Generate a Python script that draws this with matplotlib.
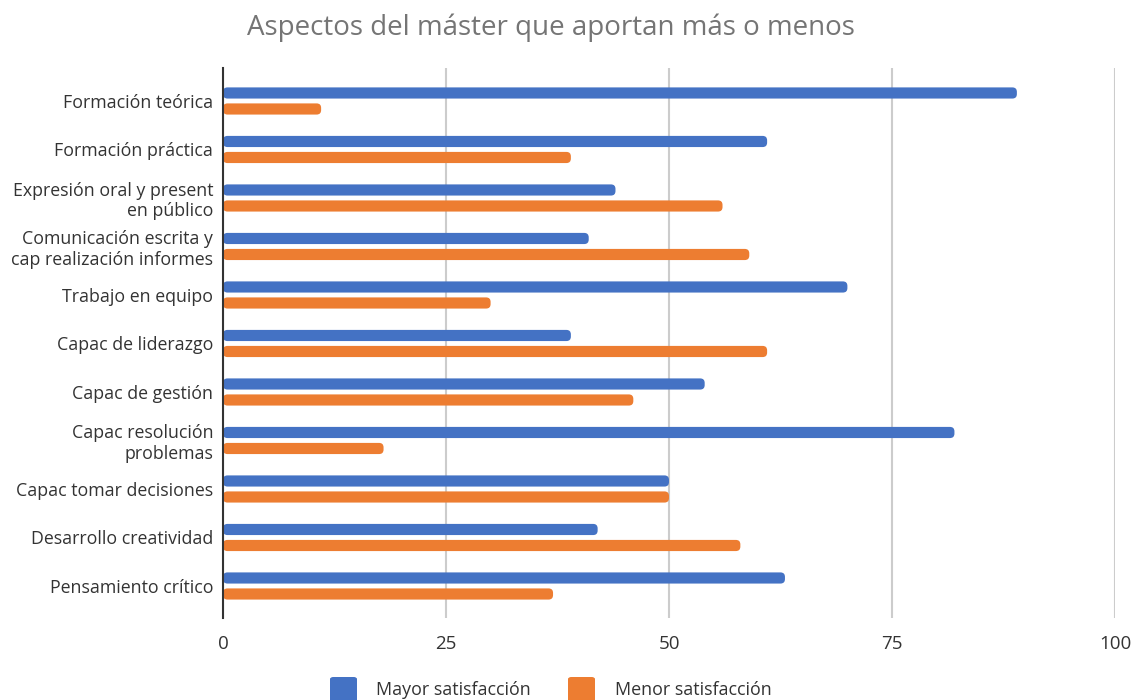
import matplotlib
matplotlib.use("Agg")
import matplotlib.pyplot as plt
from matplotlib.patches import FancyBboxPatch
import numpy as np

categories = ["Formación teórica", "Formación práctica", "Expresión oral y present\nen público",
              "Comunicación escrita y\ncap realización informes", "Trabajo en equipo",
              "Capac de liderazgo", "Capac de gestión", "Capac resolución\nproblemas",
              "Capac tomar decisiones", "Desarrollo creatividad", "Pensamiento crítico"]
mayor = [89, 61, 44, 41, 70, 39, 54, 82, 50, 42, 63]
menor = [11, 39, 56, 59, 30, 61, 46, 18, 50, 58, 37]
xticks = [0, 25, 50, 75, 100]
series_names = ["Mayor satisfacción", "Menor satisfacción"]
colors = ["#4472C4", "#ED7D31"]

plt.rcParams['font.family'] = ['Open Sans', 'DejaVu Sans']

W, H = 1133, 700
fig = plt.figure(figsize=(W/100, H/100), dpi=100)
ax = fig.add_axes([223/W, 1-618/H, (1115-223)/W, (618-68)/H])

n = len(categories)
y = np.arange(n)
bh = 0.23
off = 0.165
b1 = ax.barh(y - off, mayor, height=bh, color=colors[0])
b2 = ax.barh(y + off, menor, height=bh, color=colors[1])

ax.set_xlim(0, 100)
ax.set_ylim(n - 1 + 0.66, -0.68)

# rounded bars
xpx = (1115-223)/100.0
ypx = (618-68)/(n - 1 + 0.66 + 0.68)
aspect = xpx / ypx
for bars in (b1, b2):
    for r in bars:
        x0, y0 = r.get_x(), r.get_y()
        w, h = r.get_width(), r.get_height()
        fc = r.get_facecolor()
        r.set_visible(False)
        rs = 4.5 / xpx
        p = FancyBboxPatch((x0, y0), w, h, boxstyle=f"round,pad=0,rounding_size={rs}",
                           mutation_aspect=aspect, facecolor=fc, edgecolor='none', zorder=3)
        ax.add_patch(p)

ax.set_xticks(xticks)
ax.set_xticklabels([str(t) for t in xticks], fontsize=13.5, color="#333333")
ax.set_yticks(y)
ax.set_yticklabels(categories, fontsize=12.8, color="#333333", linespacing=1.15)
ax.tick_params(axis='both', length=0)
ax.tick_params(axis='x', pad=12)
ax.tick_params(axis='y', pad=7)
ax.grid(axis='x', color="#cccccc", linewidth=1.5, zorder=0)
ax.set_axisbelow(True)
for s in ['top', 'right', 'bottom']:
    ax.spines[s].set_visible(False)
ax.spines['left'].set_color("#333333")
ax.spines['left'].set_linewidth(1.5)
ax.spines['left'].set_zorder(5)

fig.text(551/W, 1-28/H, "Aspectos del máster que aportan más o menos", ha='center', va='center',
         fontsize=20, color="#757575")

# legend
lx = [(330, 376), (568, 615)]
for (sx, tx), c, name in zip(lx, colors, series_names):
    fig.patches.append(FancyBboxPatch((sx/W, 1-702/H), 27/W, 25/H,
                                      boxstyle="round,pad=0,rounding_size=0.003",
                                      transform=fig.transFigure, facecolor=c, edgecolor='none'))
    fig.text(tx/W, 1-690/H, name, ha='left', va='center', fontsize=12.9, color="#333333")

fig.savefig("out.png", dpi=100)
